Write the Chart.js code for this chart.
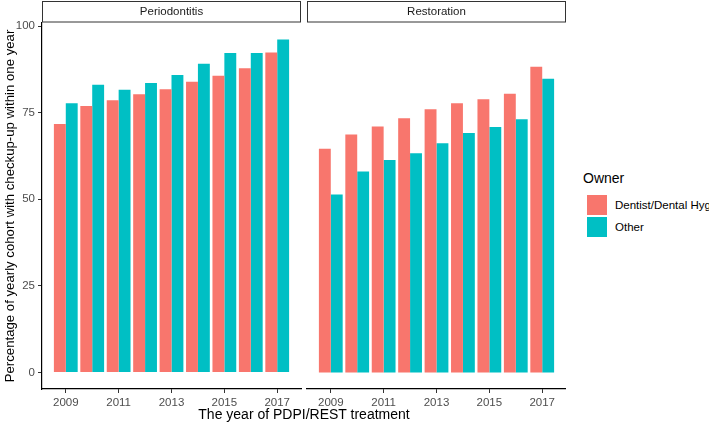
<!DOCTYPE html>
<html>
<head>
<meta charset="utf-8">
<script src="https://cdn.jsdelivr.net/npm/chart.js@4"></script>
<style>
  html, body { margin: 0; padding: 0; background: #fff; overflow: hidden; width: 709px; height: 424px; }
  body { position: relative; font-family: "Liberation Sans", Arial, sans-serif; }
  canvas { position: absolute; top: 0; }
  #xTitle { position: absolute; left: 42px; width: 524px; top: 405px; text-align: center; font-size: 14px; line-height: 18px; color: #000; }
  #legend { position: absolute; left: 583px; top: 168px; white-space: nowrap; color: #000; }
  #legend .ttl { font-size: 14px; line-height: 20px; margin-bottom: 6px; }
  #legend .item { display: flex; align-items: center; height: 22px; font-size: 11.5px; }
  #legend .key { width: 20px; height: 20px; margin-left: 4px; margin-right: 8px; }
</style>
</head>
<body>
<canvas id="leftChart" width="304" height="424" style="left:0"></canvas>
<canvas id="rightChart" width="262" height="424" style="left:304px"></canvas>
<div id="xTitle">The year of PDPI/REST treatment</div>
<div id="legend"></div>
<script>
const years = [2009, 2010, 2011, 2012, 2013, 2014, 2015, 2016, 2017];
const yearTicks = [2009, 2011, 2013, 2015, 2017];
const valueTicks = [0, 25, 50, 75, 100];
const owners = ['Dentist/Dental Hygienist', 'Other'];
const ownerColors = ['#F8766D', '#00BFC4'];

// Periodontitis
const perioDentist = [71.7, 76.9, 78.6, 80.3, 81.8, 83.9, 85.7, 87.8, 92.4];
const perioOther = [77.7, 83.1, 81.6, 83.6, 85.9, 89.1, 92.2, 92.2, 96.1];
// Restoration
const restDentist = [64.6, 68.7, 71.0, 73.4, 76.0, 77.7, 78.9, 80.5, 88.3];
const restOther = [51.4, 58.0, 61.3, 63.3, 66.2, 69.1, 70.9, 73.1, 84.8];

const tickFont = { family: '"Liberation Sans", Arial, sans-serif', size: 11.5 };

const stripPlugin = {
  id: 'strip',
  afterDraw(chart, args, opts) {
    const { ctx, chartArea } = chart;
    ctx.save();
    ctx.fillStyle = '#fff';
    ctx.strokeStyle = '#333';
    ctx.lineWidth = 1;
    ctx.fillRect(chartArea.left, 1, chartArea.right - chartArea.left, 21);
    ctx.strokeRect(chartArea.left + 0.5, 1.5, chartArea.right - chartArea.left - 1, 20.5);
    ctx.fillStyle = '#1a1a1a';
    ctx.font = '11.5px "Liberation Sans", Arial, sans-serif';
    ctx.textAlign = 'center';
    ctx.textBaseline = 'middle';
    ctx.fillText(opts.text, (chartArea.left + chartArea.right) / 2, 12);
    ctx.restore();
  }
};

function makePanel(id, title, dentist, other, showY) {
  const ds = [dentist, other].map((vals, i) => ({
    label: owners[i],
    data: years.map((yr, j) => ({ x: yr, y: vals[j] })),
    backgroundColor: ownerColors[i],
    borderWidth: 0,
    categoryPercentage: 0.9,
    barPercentage: 1
  }));
  return new Chart(document.getElementById(id), {
    type: 'bar',
    data: { datasets: ds },
    plugins: [stripPlugin],
    options: {
      responsive: false,
      animation: false,
      devicePixelRatio: 1,
      layout: { padding: { top: 23, right: showY ? 3 : 0, left: showY ? 0 : 3, bottom: 0 } },
      plugins: {
        legend: { display: false },
        tooltip: { enabled: false },
        strip: { text: title }
      },
      scales: {
        x: {
          type: 'linear',
          min: 2008.1,
          max: 2017.9,
          offset: false,
          afterBuildTicks: s => { s.ticks = yearTicks.map(v => ({ value: v })); },
          afterFit: s => { s.height = 35; },
          grid: { offset: false, drawOnChartArea: false, drawTicks: true, tickLength: 4, color: '#333', lineWidth: 1 },
          border: { display: true, color: '#000', width: 1.2 },
          ticks: { color: '#4d4d4d', font: tickFont, padding: 3, maxRotation: 0, callback: v => String(v) }
        },
        y: {
          display: showY,
          min: -4.8,
          max: 100.9,
          afterBuildTicks: s => { s.ticks = valueTicks.map(v => ({ value: v })); },
          afterFit: s => { if (showY) s.width = 42; },
          grid: { drawOnChartArea: false, drawTicks: true, tickLength: 4, color: '#333', lineWidth: 1 },
          border: { display: true, color: '#000', width: 1.2 },
          ticks: { color: '#4d4d4d', font: tickFont, padding: 3 },
          title: {
            display: true,
            text: 'Percentage of yearly cohort with checkup-up within one year',
            color: '#000',
            font: { family: '"Liberation Sans", Arial, sans-serif', size: 13.2 },
            padding: { top: 2, bottom: 2 }
          }
        }
      }
    }
  });
}

makePanel('leftChart', 'Periodontitis', perioDentist, perioOther, true);
makePanel('rightChart', 'Restoration', restDentist, restOther, false);

const legendEl = document.getElementById('legend');
legendEl.innerHTML = '<div class="ttl">Owner</div>' + owners.map((o, i) =>
  `<div class="item"><span class="key" style="background:${ownerColors[i]}"></span>${o}</div>`).join('');
</script>
</body>
</html>
